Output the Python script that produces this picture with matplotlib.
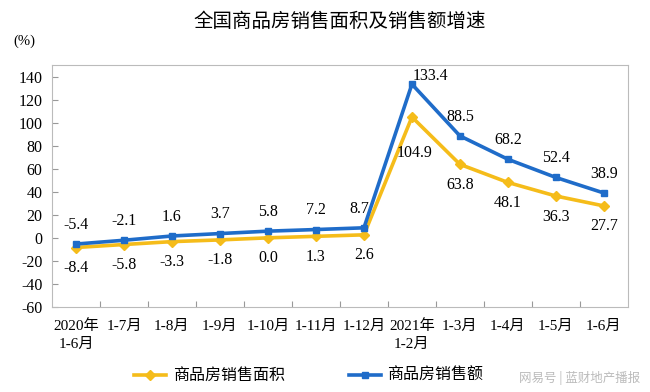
import matplotlib
matplotlib.use("Agg")
import matplotlib.pyplot as plt
from matplotlib.lines import Line2D

plt.rcParams['font.family'] = ['Liberation Serif', 'Noto Sans CJK SC']

categories = ["2020年\n1-6月", "1-7月", "1-8月", "1-9月", "1-10月", "1-11月", "1-12月",
              "2021年\n1-2月", "1-3月", "1-4月", "1-5月", "1-6月"]
area = [-8.4, -5.8, -3.3, -1.8, 0.0, 1.3, 2.6, 104.9, 63.8, 48.1, 36.3, 27.7]
amount = [-5.4, -2.1, 1.6, 3.7, 5.8, 7.2, 8.7, 133.4, 88.5, 68.2, 52.4, 38.9]
area_name = "商品房销售面积"
amount_name = "商品房销售额"
yticks = [-60, -40, -20, 0, 20, 40, 60, 80, 100, 120, 140]

blue = "#1F6CC9"
yellow = "#F5BC1A"

fig = plt.figure(figsize=(6.5, 3.92), dpi=100)
ax = fig.add_axes([0.08, 0.217, 0.886, 0.617])
x = list(range(len(categories)))

ax.plot(x, area, color=yellow, lw=2.6, marker="D", ms=5, zorder=3)
ax.plot(x, amount, color=blue, lw=2.6, marker="s", ms=5, zorder=4)

fs = 11.5
for i, (a, b) in enumerate(zip(area, amount)):
    if i == 7:
        ax.annotate(f"{b:.1f}", (i, b), xytext=(13, 0), textcoords="offset points",
                    ha="center", va="bottom", fontsize=fs)
        ax.annotate(f"{a:.1f}", (i, a), xytext=(2, -20), textcoords="offset points",
                    ha="center", va="top", fontsize=fs)
    elif i == 6:
        ax.annotate(f"{b:.1f}", (i, b), xytext=(-3, 8), textcoords="offset points",
                    ha="center", va="bottom", fontsize=fs)
        ax.annotate(f"{a:.1f}", (i, a), xytext=(0, -9), textcoords="offset points",
                    ha="center", va="top", fontsize=fs)
    else:
        ax.annotate(f"{b:.1f}", (i, b), xytext=(0, 8), textcoords="offset points",
                    ha="center", va="bottom", fontsize=fs)
        ax.annotate(f"{a:.1f}", (i, a), xytext=(0, -9), textcoords="offset points",
                    ha="center", va="top", fontsize=fs)

ax.set_xlim(-0.5, len(categories) - 0.5)
ax.set_ylim(-60, 150)
ax.set_yticks(yticks)
ax.set_yticklabels([str(v) for v in yticks], fontsize=11.5)
ax.set_xticks([i + 0.5 for i in range(len(categories) - 1)])
ax.set_xticklabels([])
ax.set_xticks(x, minor=True)
ax.set_xticklabels(categories, minor=True, fontsize=11, linespacing=1.45)
ax.tick_params(axis="x", which="minor", length=0, pad=9)
ax.tick_params(axis="x", which="major", direction="in", length=4, color="#999999")
ax.tick_params(axis="y", direction="in", length=4, color="#999999", pad=7)
for s in ax.spines.values():
    s.set_color("#BBBBBB")
    s.set_linewidth(0.8)

fig.text(0.523, 0.945, "全国商品房销售面积及销售额增速", ha="center", va="center",
         fontsize=14, family=["Noto Sans CJK SC"])
fig.text(0.038, 0.895, "(%)", ha="center", va="center", fontsize=10.5)

handles = [Line2D([0], [0], color=yellow, lw=2.6, marker="D", ms=5),
           Line2D([0], [0], color=blue, lw=2.6, marker="s", ms=5)]
fig.legend(handles, [area_name, amount_name], loc="center", bbox_to_anchor=(0.475, 0.04),
           ncol=2, frameon=False, fontsize=11.5, handlelength=2.0, columnspacing=4.0,
           handletextpad=0.4)

fig.text(0.985, 0.035, "网易号 | 蓝财地产播报", ha="right", va="center", fontsize=9,
         color="#BBBBBB", family=["Noto Sans CJK SC"])

fig.savefig("out.png", dpi=100)
